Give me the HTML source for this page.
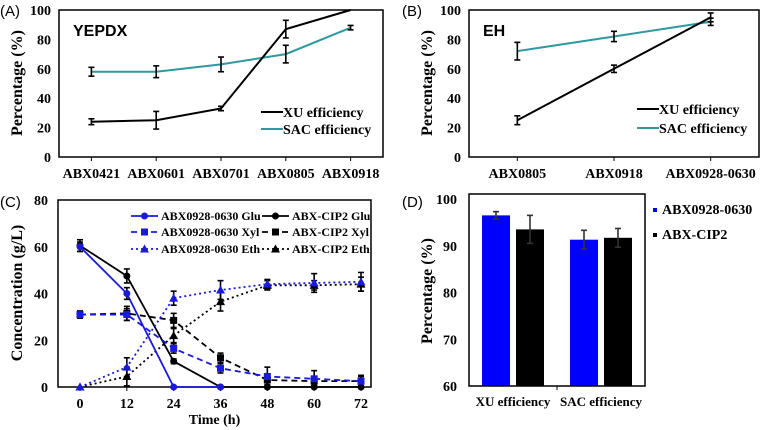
<!DOCTYPE html>
<html><head><meta charset="utf-8">
<style>
html,body{margin:0;padding:0;background:#fff;}
svg{display:block;}
text{font-family:"Liberation Serif",serif;font-weight:bold;fill:#000;}
.lab{font-family:"Liberation Sans",sans-serif;font-weight:normal;font-size:15px;}
</style></head>
<body>
<svg id="fig" width="764" height="430" viewBox="0 0 764 430" xmlns="http://www.w3.org/2000/svg"></svg>
<script>
// Panel A data
const aCategories = ["ABX0421","ABX0601","ABX0701","ABX0805","ABX0918"];
const aXU = [24,25,33,87,100];
const aXUerr = [2,6,1.5,6,0];
const aSAC = [58,58,63,70,88];
const aSACerr = [3,4,5,6,1.5];
const aYTicks = [0,20,40,60,80,100];
// Panel B data
const bCategories = ["ABX0805","ABX0918","ABX0928-0630"];
const bXU = [25,60,95];
const bXUerr = [3,2.5,3];
const bSAC = [72,82,92];
const bSACerr = [6,3.5,2.5];
const bYTicks = [0,20,40,60,80,100];
// Panel C data
const cTimes = [0,12,24,36,48,60,72];
const cBlueGlu = [60,40,0,0];
const cBlueGluErr = [2,2.5,0,0];
const cBlackGlu = [60.5,47.5,11,0,0,0,0];
const cBlackGluErr = [2.5,3,1,0,0,0,0];
const cBlueXyl = [31,31,16.5,8,4.5,3.5,2.5];
const cBlueXylErr = [1.5,2.5,2,2,4,3.5,2.5];
const cBlackXyl = [31,31.5,28.5,12.5,3,2.5,2.5];
const cBlackXylErr = [1.5,3,3,2,2,2,2];
const cBlueEth = [0,8.5,38,41.5,44,44.5,45];
const cBlueEthErr = [0,4,3,4,2,4,4];
const cBlackEth = [0,4.5,22,36.5,43.5,43.5,44];
const cBlackEthErr = [0,4,3,4,2,2,3];
const cYTicks = [0,20,40,60,80];
// Panel D data
const dGroups = ["XU efficiency","SAC efficiency"];
const dBlue = [96.5,91.3];
const dBlueErr = [0.8,2];
const dBlack = [93.5,91.7];
const dBlackErr = [3,2];
const dYTicks = [60,70,80,90,100];

const NS="http://www.w3.org/2000/svg";
const svg=document.getElementById('fig');
function mk(tag,attrs,parent,txt){const e=document.createElementNS(NS,tag);for(const k in attrs)e.setAttribute(k,attrs[k]);if(txt!==undefined)e.textContent=txt;(parent||svg).appendChild(e);return e;}
function grp(name,parent){const g=document.createElementNS(NS,'g');


(parent||svg).appendChild(g);return g;}
function errBar(g,x,y1,y2,color){mk('line',{x1:x,x2:x,y1:y1,y2:y2,stroke:color,'stroke-width':1.6},g);
mk('line',{x1:x-3,x2:x+3,y1:y1,y2:y1,stroke:color,'stroke-width':1.6},g);
mk('line',{x1:x-3,x2:x+3,y1:y2,y2:y2,stroke:color,'stroke-width':1.6},g);}
function yAxisTitle(g,x,cy,txt){const t=mk('text',{x:x,y:cy,'font-size':16,'text-anchor':'middle',transform:`rotate(-90 ${x} ${cy})`},g,txt);

}

// ---------- Panel A ----------
(function(){
const L=59,R=383,T=10,B=157;const g=grp('panel-a');
const xs=i=>L+(R-L)/aCategories.length*(i+0.5);const ys=v=>B-(B-T)*v/100;
mk('text',{x:0,y:16,class:'lab'},g,'(A)');
mk('rect',{x:L,y:T,width:R-L,height:B-T,fill:'none',stroke:'#000','stroke-width':1.5},g);
aYTicks.forEach(v=>{const t=mk('text',{x:L-8,y:ys(v)+5,'font-size':14,'text-anchor':'end'},g,v);

});
aCategories.forEach((c,i)=>{mk('line',{x1:xs(i),x2:xs(i),y1:B,y2:B+4,stroke:'#000'},g);
const t=mk('text',{x:xs(i),y:178,'font-size':14,'text-anchor':'middle'},g,c);

});
yAxisTitle(g,22,83,'Percentage (%)');
mk('text',{x:73,y:36,'font-size':16,style:'font-family:"Liberation Sans",sans-serif'},g,'YEPDX');
[[aSAC,aSACerr,'#2e9aa0','sac-efficiency-line'],[aXU,aXUerr,'#000','xu-efficiency-line']].forEach(([d,e,c,n])=>{
const p=mk('path',{d:d.map((v,i)=>(i?'L':'M')+xs(i)+' '+ys(v)).join(''),fill:'none',stroke:c,'stroke-width':2},g);


d.forEach((v,i)=>{if(e[i])errBar(g,xs(i),ys(v+e[i]),ys(v-e[i]),'#000');});});
mk('line',{x1:261,x2:283,y1:112,y2:112,stroke:'#000','stroke-width':2},g);
mk('text',{x:283,y:117,'font-size':14},g,'XU efficiency');
mk('line',{x1:261,x2:283,y1:129,y2:129,stroke:'#2e9aa0','stroke-width':2},g);
mk('text',{x:283,y:134,'font-size':14},g,'SAC efficiency');
})();

// ---------- Panel B ----------
(function(){
const L=469,R=759,T=10,B=157;const g=grp('panel-b');
const xs=i=>L+(R-L)/bCategories.length*(i+0.5);const ys=v=>B-(B-T)*v/100;
mk('text',{x:402,y:16,class:'lab'},g,'(B)');
mk('rect',{x:L,y:T,width:R-L,height:B-T,fill:'none',stroke:'#000','stroke-width':1.5},g);
bYTicks.forEach(v=>{const t=mk('text',{x:L-8,y:ys(v)+5,'font-size':14,'text-anchor':'end'},g,v);

});
bCategories.forEach((c,i)=>{mk('line',{x1:xs(i),x2:xs(i),y1:B,y2:B+4,stroke:'#000'},g);
const t=mk('text',{x:xs(i),y:178,'font-size':14,'text-anchor':'middle'},g,c);

});
yAxisTitle(g,432,83,'Percentage (%)');
mk('text',{x:483,y:36,'font-size':16,style:'font-family:"Liberation Sans",sans-serif'},g,'EH');
[[bSAC,bSACerr,'#2e9aa0','sac-efficiency-line'],[bXU,bXUerr,'#000','xu-efficiency-line']].forEach(([d,e,c,n])=>{
const p=mk('path',{d:d.map((v,i)=>(i?'L':'M')+xs(i)+' '+ys(v)).join(''),fill:'none',stroke:c,'stroke-width':2},g);


d.forEach((v,i)=>{if(e[i])errBar(g,xs(i),ys(v+e[i]),ys(v-e[i]),'#000');});});
mk('line',{x1:637,x2:659,y1:109,y2:109,stroke:'#000','stroke-width':2},g);
mk('text',{x:659,y:114,'font-size':14},g,'XU efficiency');
mk('line',{x1:637,x2:659,y1:128,y2:128,stroke:'#2e9aa0','stroke-width':2},g);
mk('text',{x:659,y:133,'font-size':14},g,'SAC efficiency');
})();

// ---------- Panel C ----------
(function(){
const L=58,R=371,T=200,B=387;const g=grp('panel-c');
const X0=80,X1=361;const xs=t=>X0+(X1-X0)*t/72;const ys=v=>B-(B-T)*v/80;
mk('text',{x:0,y:207,class:'lab'},g,'(C)');
mk('rect',{x:L,y:T,width:R-L,height:B-T,fill:'none',stroke:'#000','stroke-width':1.5},g);
cYTicks.forEach(v=>{const t=mk('text',{x:L-10,y:ys(v)+5,'font-size':14,'text-anchor':'end'},g,v);

});
cTimes.forEach(tm=>{mk('line',{x1:xs(tm),x2:xs(tm),y1:B,y2:B+4,stroke:'#000'},g);
const t=mk('text',{x:xs(tm),y:408,'font-size':14,'text-anchor':'middle'},g,tm);

});
yAxisTitle(g,22,293,'Concentration (g/L)');
const xt=mk('text',{x:(L+R)/2,y:424,'font-size':14,'text-anchor':'middle'},g,'Time (h)');


const BL='#1a1adb';
function marker(x,y,shape,c){if(shape==='c')mk('circle',{cx:x,cy:y,r:3.5,fill:c},g);
else if(shape==='s')mk('rect',{x:x-3.5,y:y-3.5,width:7,height:7,fill:c},g);
else mk('path',{d:`M${x} ${y-4.5}L${x+4.5} ${y+3.5}L${x-4.5} ${y+3.5}Z`,fill:c},g);}
const series=[
[cBlackXyl,cBlackXylErr,'#000','6 4','s','black-xylose-line'],
[cBlackEth,cBlackEthErr,'#000','2 3','t','black-ethanol-line'],
[cBlackGlu,cBlackGluErr,'#000','','c','black-glucose-line'],
[cBlueXyl,cBlueXylErr,BL,'6 4','s','blue-xylose-line'],
[cBlueEth,cBlueEthErr,BL,'2 3','t','blue-ethanol-line'],
[cBlueGlu,cBlueGluErr,BL,'','c','blue-glucose-line']];
series.forEach(([d,e,c,da,sh,n])=>{
const p=mk('path',{d:d.map((v,i)=>(i?'L':'M')+xs(cTimes[i])+' '+ys(v)).join(''),fill:'none',stroke:c,'stroke-width':1.8,'stroke-dasharray':da},g);


d.forEach((v,i)=>{if(e[i])errBar(g,xs(cTimes[i]),ys(v+e[i]),Math.min(B,ys(v-e[i])),'#000');marker(xs(cTimes[i]),ys(v),sh,c);});});
const leg=[['ABX0928-0630 Glu',BL,'','c',131,216],['ABX-CIP2 Glu','#000','','c',262,216],
['ABX0928-0630 Xyl',BL,'6 4','s',131,232],['ABX-CIP2 Xyl','#000','6 4','s',262,232],
['ABX0928-0630 Eth',BL,'2 3','t',131,249],['ABX-CIP2 Eth','#000','2 3','t',262,249]];
leg.forEach(([t,c,da,sh,x,y])=>{mk('line',{x1:x,x2:x+27,y1:y,y2:y,stroke:c,'stroke-width':1.8,'stroke-dasharray':da},g);
marker(x+13.5,y,sh,c);
const tx=mk('text',{x:x+30,y:y+4,'font-size':12},g,t);

});
})();

// ---------- Panel D ----------
(function(){
const L=469,R=645,T=194,B=386;const g=grp('panel-d');
const ys=v=>B-(B-199)*(v-60)/40;
mk('text',{x:402,y:207,class:'lab'},g,'(D)');
dYTicks.forEach(v=>{const t=mk('text',{x:L-12,y:ys(v)+5,'font-size':14,'text-anchor':'end'},g,v);

});
yAxisTitle(g,432,291,'Percentage (%)');
const gw=(R-L)/dGroups.length;
dGroups.forEach((n,i)=>{const cx=L+gw*(i+0.5);
[[dBlue,dBlueErr,'#0000ff',-31,'bar-abx0928-0630'],[dBlack,dBlackErr,'#000',3,'bar-abx-cip2']].forEach(([d,e,c,off,nm])=>{
const r=mk('rect',{x:cx+off,y:ys(d[i]),width:28,height:B-ys(d[i]),fill:c},g);


errBar(g,cx+off+14,ys(d[i]+e[i]),ys(d[i]-e[i]),'#333');});
const t=mk('text',{x:cx,y:406,'font-size':13,'text-anchor':'middle'},g,n);


if(i===1)mk('line',{x1:L+gw,x2:L+gw,y1:B,y2:B+4,stroke:'#000'},g);});
mk('rect',{x:L,y:T,width:R-L,height:B-T,fill:'none',stroke:'#000','stroke-width':1.5},g);
mk('rect',{x:653,y:208,width:4,height:4,fill:'#0000ff'},g);
const l1=mk('text',{x:662,y:214,'font-size':14},g,'ABX0928-0630');


mk('rect',{x:653,y:233,width:4,height:4,fill:'#000'},g);
const l2=mk('text',{x:662,y:239,'font-size':14},g,'ABX-CIP2');


})();
</script>
</body></html>
